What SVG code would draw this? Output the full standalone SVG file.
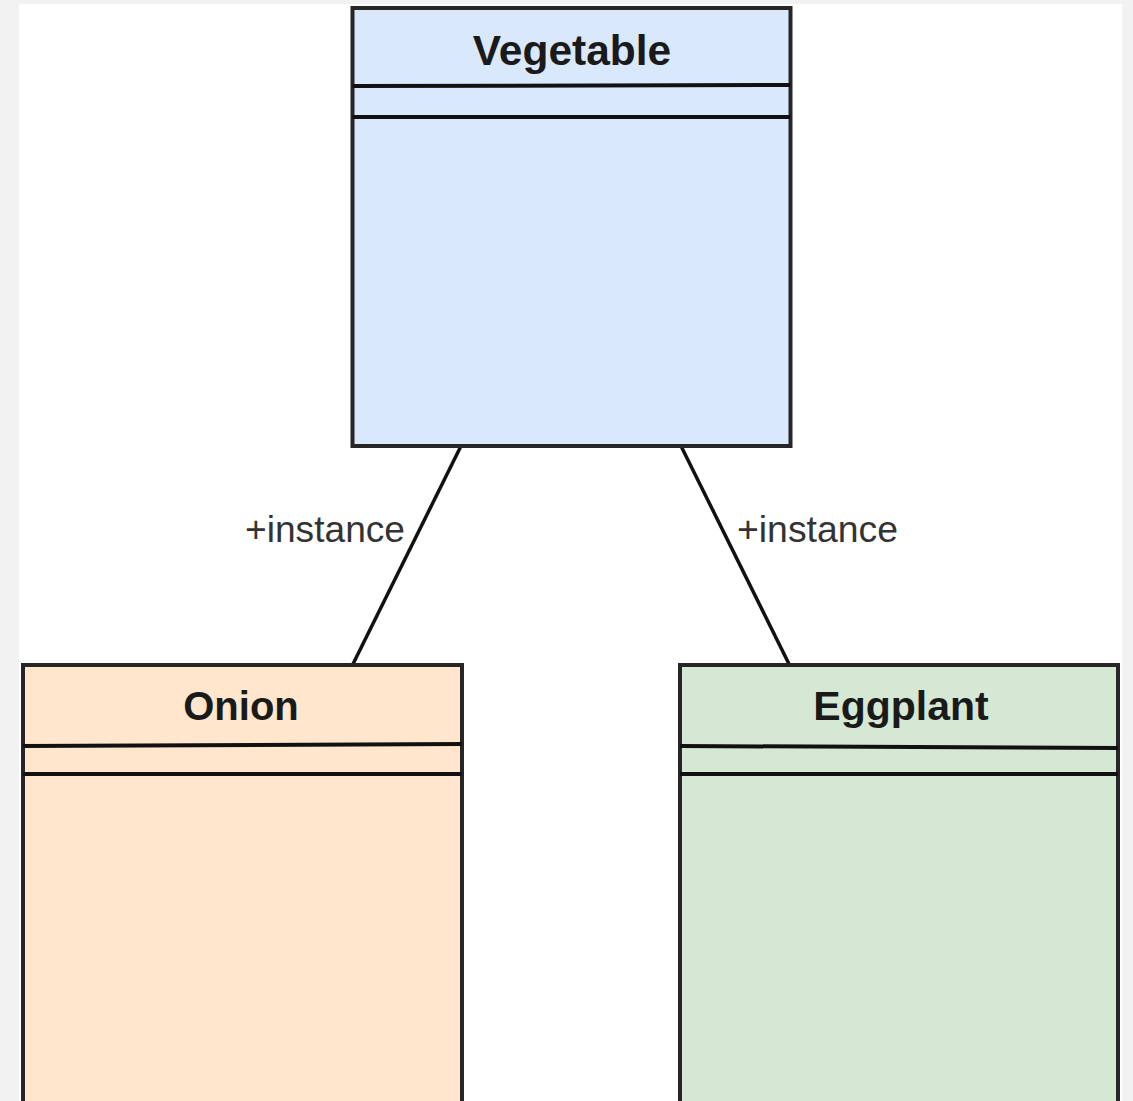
<svg xmlns="http://www.w3.org/2000/svg" width="1133" height="1101" viewBox="0 0 1133 1101">
<style>
.box{stroke:#262626;stroke-width:4}
.div{stroke:#111;stroke-width:4;fill:none}
.title{font-family:"Liberation Sans",Arial,sans-serif;font-weight:bold;fill:#1a1a1a;text-anchor:middle}
.lbl{font-family:"Liberation Sans",Arial,sans-serif;font-size:36px;fill:#333}
.conn{stroke:#111;stroke-width:3.5;fill:none}
</style>
<rect x="0" y="0" width="1133" height="1101" fill="#f2f2f2"/>
<rect x="19" y="4" width="1103" height="1097" fill="#ffffff"/>
<g id="connectors">
<line class="conn" x1="461" y1="446" x2="353" y2="664"/>
<line class="conn" x1="681" y1="446" x2="789" y2="664"/>
<text class="lbl" x="245" y="542" textLength="160" lengthAdjust="spacingAndGlyphs">+instance</text>
<text class="lbl" x="737" y="542" textLength="161" lengthAdjust="spacingAndGlyphs">+instance</text>
</g>
<g id="vegetable">
<rect class="box" x="352.5" y="8" width="438" height="438" fill="#dae8fc"/>
<line class="div" x1="352.5" y1="86" x2="790.5" y2="85"/>
<line class="div" x1="352.5" y1="117" x2="790.5" y2="117"/>
<text class="title" x="572" y="65" font-size="42.5">Vegetable</text>
</g>
<g id="onion">
<rect class="box" x="23" y="665" width="439" height="445" fill="#ffe6cc"/>
<line class="div" x1="23" y1="746" x2="462" y2="744"/>
<line class="div" x1="23" y1="774" x2="462" y2="774"/>
<text class="title" x="241" y="720" font-size="40">Onion</text>
</g>
<g id="eggplant">
<rect class="box" x="680" y="665" width="438" height="445" fill="#d5e8d4"/>
<line class="div" x1="680" y1="746" x2="1118" y2="748"/>
<line class="div" x1="680" y1="774" x2="1118" y2="774"/>
<text class="title" x="901" y="720" font-size="41">Eggplant</text>
</g>
</svg>
